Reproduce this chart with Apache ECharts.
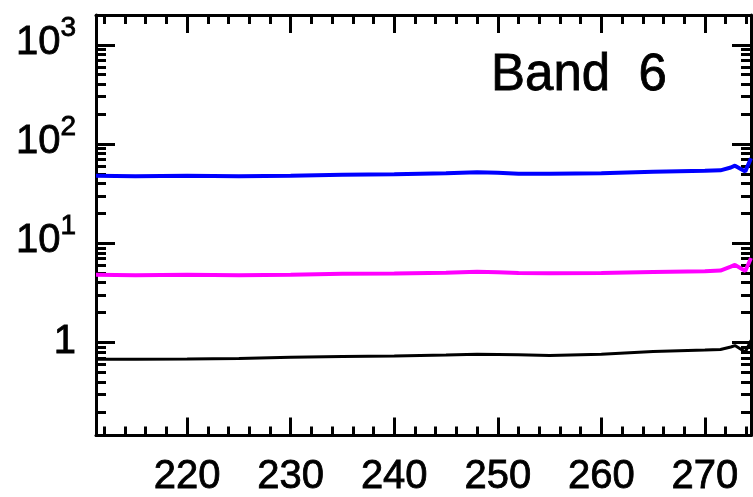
<!DOCTYPE html>
<html>
<head>
    <meta charset="utf-8" />
    <title>Band 6</title>
    <style type="text/css">
        html, body {
            margin: 0;
            padding: 0;
            background-color: #ffffff;
        }

        #chart {
            width: 753px;
            height: 497px;
        }
    </style>
</head>
<body>
    <div id="chart"></div>
    <script src="https://cdn.jsdelivr.net/npm/echarts@6/dist/echarts.min.js"></script>
    <script type="text/javascript">
        // values
        var wavelength = [211.2, 215, 220, 225, 230, 235, 240, 245, 248, 250, 252, 255, 260, 265, 270, 271.5, 272.5, 272.9, 273.9, 274.45];
        var blueVals = [47.9, 47.3, 47.9, 47.3, 47.9, 49.0, 49.5, 50.7, 51.9, 51.3, 50.1, 50.1, 50.7, 52.5, 53.7, 54.3, 58.0, 60.5, 53.0, 72.0];
        var magentaVals = [4.82, 4.76, 4.80, 4.76, 4.82, 4.92, 4.96, 5.05, 5.15, 5.10, 5.00, 4.98, 5.02, 5.12, 5.22, 5.30, 5.80, 6.05, 5.25, 7.10];
        var blackVals = [0.676, 0.676, 0.68, 0.69, 0.71, 0.72, 0.73, 0.745, 0.76, 0.755, 0.75, 0.74, 0.76, 0.81, 0.84, 0.85, 0.90, 0.93, 0.80, 1.05];

        var xMajor = [220, 230, 240, 250, 260, 270];
        var xMinor = [212, 214, 216, 218, 222, 224, 226, 228, 232, 234, 236, 238, 242, 244, 246, 248,
            252, 254, 256, 258, 262, 264, 266, 268, 272, 274];
        var yMajor = [1, 10, 100, 1000];
        var yMinor = [0.2, 0.3, 0.4, 0.5, 0.6, 0.7, 0.8, 0.9, 2, 3, 4, 5, 6, 7, 8, 9,
            20, 30, 40, 50, 60, 70, 80, 90, 200, 300, 400, 500, 600, 700, 800, 900, 2000];
        var bandLabel = 'Band  6';

        var xMin = 211.2, xMax = 274.45;
        var yMin = 0.115, yMax = 2000;
        var fontName = 'Liberation Sans';
        // IDL text looks a bit heavier than the regular face
        var thick = { textBorderColor: '#000', textBorderWidth: 0.8 };

        var pairs = function (ys) {
            return wavelength.map(function (x, i) { return [x, ys[i]]; });
        };

        var lineAxis = { show: true, lineStyle: { color: '#000', width: 3 } };
        var noLine = { show: false };

        var xAxisDef = function (pos, ticks, len, labels) {
            return {
                type: 'value', position: pos, min: xMin, max: xMax,
                axisLine: len > 12 ? lineAxis : noLine,
                splitLine: { show: false },
                axisTick: { show: true, inside: true, length: len, customValues: ticks, lineStyle: { color: '#000', width: 3 } },
                axisLabel: labels ? Object.assign({
                    show: true, customValues: xMajor, margin: 21, color: '#000',
                    fontSize: 40, fontFamily: fontName
                }, thick) : { show: false }
            };
        };

        var yAxisDef = function (pos, ticks, len, labels) {
            return {
                type: 'log', logBase: 10, position: pos, min: yMin, max: yMax,
                axisLine: len > 12 ? lineAxis : noLine,
                splitLine: { show: false },
                axisTick: { show: true, inside: true, length: len, customValues: ticks, lineStyle: { color: '#000', width: 3 } },
                axisLabel: labels ? {
                    show: true, customValues: yMajor, margin: 20, color: '#000',
                    formatter: function (v) {
                        if (Math.abs(v - 1) < 1e-6) return '{one|1}';
                        return '{b|10}{s|' + Math.round(Math.log10(v)) + '}';
                    },
                    rich: {
                        one: Object.assign({ fontSize: 40, fontFamily: fontName, color: '#000' }, thick),
                        b: Object.assign({ fontSize: 40, fontFamily: fontName, color: '#000', padding: [9, 0, 13, 0] }, thick),
                        s: Object.assign({ fontSize: 28, fontFamily: fontName, color: '#000', verticalAlign: 'top' }, thick)
                    }
                } : { show: false }
            };
        };

        var option = {
            animation: false,
            backgroundColor: '#fff',
            title: {
                text: bandLabel, left: 491, top: 50, padding: 0,
                textStyle: Object.assign({ fontSize: 51, fontWeight: 'normal', fontFamily: fontName, color: '#000' }, thick)
            },
            grid: { left: 96, right: 2, top: 15, bottom: 58, containLabel: false },
            xAxis: [
                xAxisDef('bottom', xMajor, 18, true),
                xAxisDef('bottom', xMinor, 9, false),
                xAxisDef('top', xMajor, 18, false),
                xAxisDef('top', xMinor, 9, false)
            ],
            yAxis: [
                yAxisDef('left', yMajor, 19, true),
                yAxisDef('left', yMinor, 10, false),
                yAxisDef('right', yMajor, 19, false),
                yAxisDef('right', yMinor, 10, false)
            ],
            series: [
                { type: 'line', data: pairs(blueVals), showSymbol: false, lineStyle: { color: '#0000ff', width: 4 } },
                { type: 'line', data: pairs(magentaVals), showSymbol: false, lineStyle: { color: '#ff00ff', width: 4 } },
                { type: 'line', data: pairs(blackVals), showSymbol: false, lineStyle: { color: '#000000', width: 3 } }
            ]
        };

        var myChart = echarts.init(document.getElementById('chart'), null, { renderer: 'canvas' });
        myChart.setOption(option);
        window.onresize = myChart.resize;
    </script>
</body>
</html>
